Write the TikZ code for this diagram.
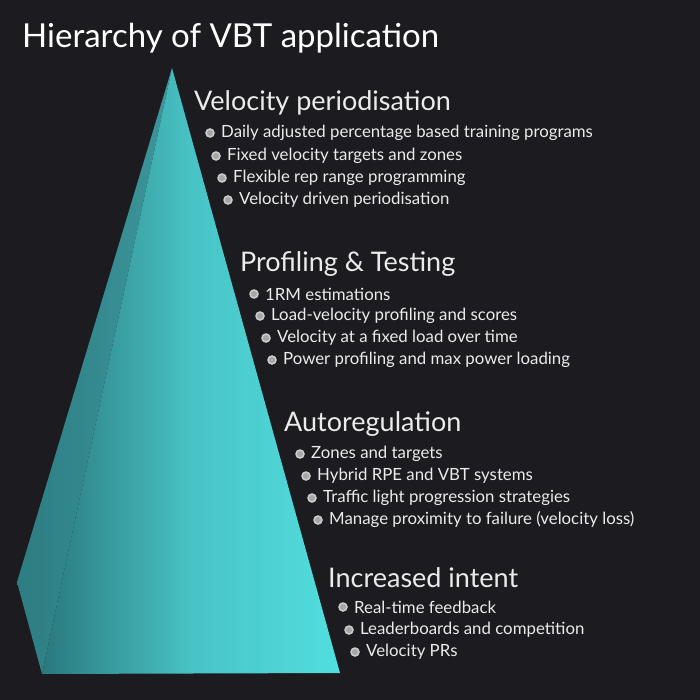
\documentclass[tikz,border=0pt]{standalone}
\usepackage{fontspec}
\setmainfont{Lato}
\definecolor{bgc}{RGB}{28,27,31}
\definecolor{lfa}{RGB}{45,125,130}
\definecolor{lfb}{RGB}{60,150,155}
\definecolor{ffa}{RGB}{42,120,125}
\definecolor{ffm}{RGB}{72,195,197}
\definecolor{ffb}{RGB}{82,222,222}
\begin{document}
\begin{tikzpicture}[x=1pt,y=-1pt,
  head/.style={anchor=west,text=white!92!black,font=\fontsize{27}{30}\selectfont,inner sep=0},
  item/.style={anchor=west,text=white!92!black,font=\fontsize{16.8}{19}\selectfont,inner sep=0},
  bul/.style={circle,draw=white!80!black,fill=gray!70,line width=1.5pt,minimum size=8pt,inner sep=0}]
\fill[bgc] (0,0) rectangle (700,700);
\useasboundingbox (0,0) rectangle (700,700);
\coordinate (apex) at (172,68);
\coordinate (lp) at (17,582);
\coordinate (bl) at (42,674);
\coordinate (br) at (340,673);
\shade[left color=lfa,right color=lfb] (apex) -- (lp) -- (bl) -- cycle;
\shade[left color=ffa,right color=ffb,middle color=ffm] (apex) -- (bl) -- (br) -- cycle;
\node[anchor=west,text=white,font=\fontsize{33}{36}\selectfont,inner sep=0] (title) at (22,38) {Hierarchy of VBT application};
\node[head] (h1) at (194,103) {Velocity periodisation};
\node[head] (h2) at (240,264) {Profiling \& Testing};
\node[head] (h3) at (284,424) {Autoregulation};
\node[head] (h4) at (328,578) {Increased intent};
\foreach \x/\y/\t [count=\i] in {
 210/133/Daily adjusted percentage based training programs,
 216/156/Fixed velocity targets and zones,
 222/178/Flexible rep range programming,
 228/200/Velocity driven periodisation,
 254/294/1RM estimations,
 260/316/Load-velocity profiling and scores,
 266/338/Velocity at a fixed load over time,
 272/360/Power profiling and max power loading,
 300/454/Zones and targets,
 306/476/Hybrid RPE and VBT systems,
 312/498/Traffic light progression strategies,
 318/520/Manage proximity to failure (velocity loss),
 343/607/Real-time feedback,
 349/630/Leaderboards and competition,
 355/652/Velocity PRs}{
 \node[bul] (b\i) at (\x,\y) {};
 \node[item] (t\i) at (\x+11,\y) {\t};
}
\end{tikzpicture}
\end{document}
